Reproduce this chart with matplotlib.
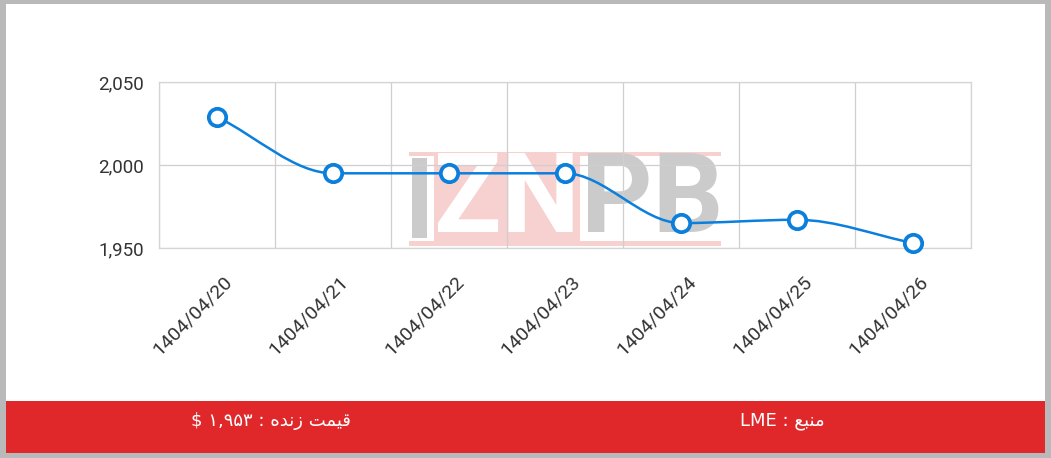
import matplotlib.pyplot as plt
import numpy as np
from matplotlib.path import Path
from matplotlib.patches import PathPatch, Rectangle
from matplotlib.transforms import ScaledTranslation

# data
dates = ['1404/04/20', '1404/04/21', '1404/04/22', '1404/04/23',
         '1404/04/24', '1404/04/25', '1404/04/26']
prices = [2029, 1995, 1995, 1995, 1965, 1967, 1953]
y_ticks = [1950, 2000, 2050]

# footer texts (Persian, pre-shaped, visual order)
live_price = '$ \u06f1,\u06f9\u06f5\u06f3 : \ufee9\ufeaa\ufee7\ufeaf \ufe96\ufee4\ufef4\ufed7'
source = 'LME : \ufeca\ufe92\ufee8\ufee3'

W, H = 1051, 458
BLUE = '#0b7fdc'
RED = '#e0282b'


def px(x, y):
    # pixel (from top-left) -> figure fraction
    return x / W, 1 - y / H


def monotone_path(xs, ys):
    # monotone cubic bezier, same idea as the chart library smoothing
    xs = np.asarray(xs, float)
    ys = np.asarray(ys, float)
    n = len(xs)
    d = np.diff(ys) / np.diff(xs)
    m = np.zeros(n)
    m[0], m[-1] = d[0], d[-1]
    for i in range(1, n - 1):
        m[i] = 0 if d[i - 1] * d[i] <= 0 else (d[i - 1] + d[i]) / 2
    for i in range(n - 1):
        if d[i] == 0:
            m[i] = m[i + 1] = 0
            continue
        a, b = m[i] / d[i], m[i + 1] / d[i]
        s = a * a + b * b
        if s > 9:
            t = 3 / np.sqrt(s)
            m[i], m[i + 1] = t * a * d[i], t * b * d[i]
    verts = [(xs[0], ys[0])]
    codes = [Path.MOVETO]
    for i in range(n - 1):
        dx = (xs[i + 1] - xs[i]) / 3
        verts += [(xs[i] + dx, ys[i] + m[i] * dx),
                  (xs[i + 1] - dx, ys[i + 1] - m[i + 1] * dx),
                  (xs[i + 1], ys[i + 1])]
        codes += [Path.CURVE4] * 3
    return Path(verts, codes)


fig = plt.figure(figsize=(W / 100, H / 100), dpi=100)
fig.patch.set_facecolor('#b9b9b9')

# white card inside grey frame
x0, y0 = px(6, 453)
x1, y1 = px(1045, 4)
fig.add_artist(Rectangle((x0, y0), x1 - x0, y1 - y0, transform=fig.transFigure,
                         facecolor='white', edgecolor='none', zorder=-3))

# watermark logo
def wm_rect(xa, ya, xb, yb, color):
    a = px(xa, yb)
    b = px(xb, ya)
    fig.add_artist(Rectangle(a, b[0] - a[0], b[1] - a[1], transform=fig.transFigure,
                             facecolor=color, edgecolor='none', zorder=-2))

PINK = '#f7d0d0'
GREY = '#cbcbcb'
wm_rect(409, 152, 721, 156, PINK)
wm_rect(409, 241, 721, 246, PINK)
wm_rect(409, 156, 580, 241, PINK)
wm_rect(409, 156, 434, 241, 'white')
wm_rect(412, 158, 427, 238, GREY)
fig.text(*px(507, 202), 'ZN', color='white', fontsize=80, fontweight='bold',
         family='Roboto', ha='center', va='center', zorder=-1)
fig.text(*px(652, 202), 'PB', color=GREY, fontsize=80, fontweight='bold',
         family='Roboto', ha='center', va='center', zorder=-1)

# red footer
wm_rect(6, 401, 1045, 453, RED)
fig.text(*px(271, 421), live_price, color='white', fontsize=13,
         family=['DejaVu Sans Condensed', 'DejaVu Sans'], ha='center', va='center')
fig.text(*px(782, 421), source, color='white', fontsize=13,
         family=['DejaVu Sans Condensed', 'DejaVu Sans'], ha='center', va='center')

# chart axes
l, b = px(159, 248)
r, t = px(971, 82)
ax = fig.add_axes([l, b, r - l, t - b])
ax.set_facecolor('none')

xi = np.arange(len(dates))
ax.add_patch(PathPatch(monotone_path(xi, prices), facecolor='none',
                       edgecolor=BLUE, linewidth=1.8, zorder=3))
ax.plot(xi, prices, linestyle='none', marker='o', markersize=12.5,
        markerfacecolor='white', markeredgecolor=BLUE, markeredgewidth=2.7,
        zorder=4, clip_on=False)

ax.set_xlim(-0.5, len(dates) - 0.5)
ax.set_ylim(1950, 2050)
ax.set_yticks(y_ticks)
ax.set_yticklabels([f'{v:,}' for v in y_ticks], family='Roboto', fontsize=13.5,
                   color='#333333')
ax.tick_params(axis='y', length=0, pad=11)

ax.set_xticks(xi)
ax.set_xticklabels([])
ax.tick_params(axis='x', length=0)
ax.set_xticks(np.arange(len(dates) + 1) - 0.5, minor=True)
ax.tick_params(axis='x', which='minor', length=0)
ax.grid(True, which='minor', axis='x', color='#cfcfcf', linewidth=0.9)
ax.grid(True, which='major', axis='y', color='#cfcfcf', linewidth=0.9)
for s in ax.spines.values():
    s.set_color('#d4d4d4')
    s.set_linewidth(0.9)

off = ScaledTranslation(12 / 100, -31 / 100, fig.dpi_scale_trans)
for i, d in enumerate(dates):
    ax.text(i, 0, d, transform=ax.get_xaxis_transform() + off, rotation=45,
            rotation_mode='anchor', ha='right', va='center', family='Roboto',
            fontsize=14, color='#333333')

fig.savefig('out.png', dpi=100, facecolor=fig.get_facecolor())
